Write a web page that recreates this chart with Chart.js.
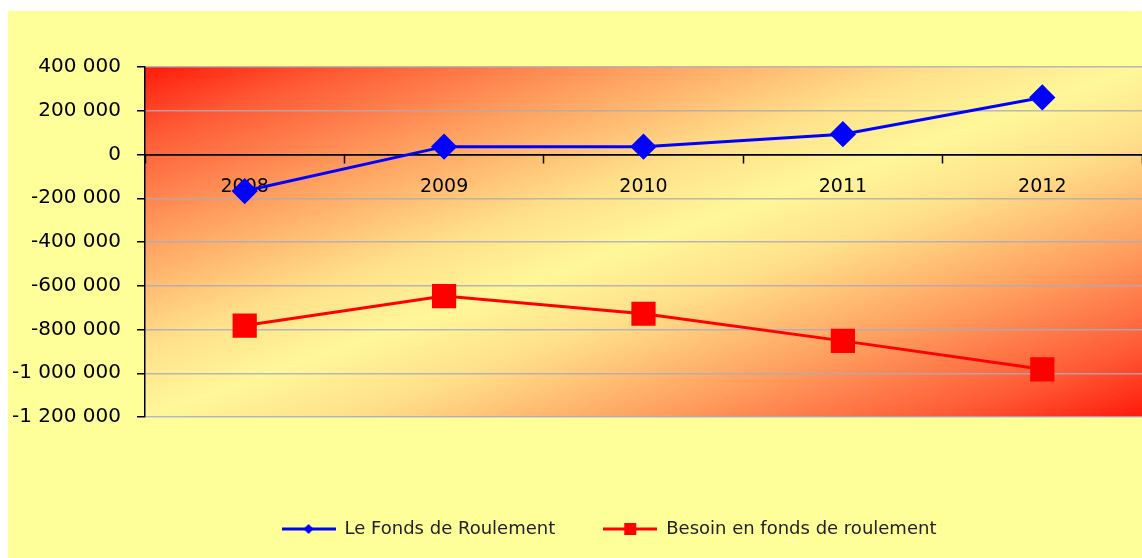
<!DOCTYPE html>
<html lang="fr">
<head>
<meta charset="utf-8">
<title>Fonds de roulement / BFR</title>
<script src="https://cdn.jsdelivr.net/npm/chart.js@4/dist/chart.umd.min.js"></script>
<style>
  html, body { margin: 0; padding: 0; background: #fff; }
  #wrap { position: absolute; left: 8px; top: 11px; width: 1134px; height: 547px; background: #FFFF99; }
</style>
</head>
<body>
<div id="wrap"><canvas id="fr-chart"></canvas></div>
<script>
/* FR vs BFR, 2008-2012 */
const years = ['2008', '2009', '2010', '2011', '2012'];
const fondsRoulement = [-167000, 36000, 36000, 93000, 261000];
const besoinFonds = [-782000, -647000, -728000, -852000, -982000];
const yMin = -1200000, yMax = 400000, yStep = 200000;

const FONT = '"Comic Sans MS", "DejaVu Sans", sans-serif';
const BLUE = '#0000FF';
const RED = '#FF0000';

// 1 234 567 (espace comme séparateur de milliers)
function fmt(v) {
  const s = String(Math.abs(v)).replace(/\B(?=(\d{3})+(?!\d))/g, ' ');
  return (v < 0 ? '-' : '') + s;
}

// petit symbole de légende : trait + marqueur
function legendSymbol(color, shape) {
  const c = document.createElement('canvas');
  c.width = 54; c.height = 14;
  const g = c.getContext('2d');
  g.strokeStyle = color; g.lineWidth = 3;
  g.beginPath(); g.moveTo(0, 7); g.lineTo(54, 7); g.stroke();
  g.fillStyle = color;
  g.beginPath();
  if (shape === 'diamond') {
    g.moveTo(27, 2); g.lineTo(32, 7); g.lineTo(27, 12); g.lineTo(22, 7);
  } else {
    g.rect(21, 1, 12, 12);
  }
  g.closePath(); g.fill();
  return c;
}
const symbols = [legendSymbol(BLUE, 'diamond'), legendSymbol(RED, 'square')];

// fond dégradé rouge / jaune / rouge de la zone de tracé
const plotBg = {
  id: 'plotBg',
  beforeDraw(chart) {
    const a = chart.chartArea, ctx = chart.ctx;
    ctx.save();
    ctx.translate(a.left, a.top);
    ctx.scale(a.right - a.left, a.bottom - a.top);
    const gr = ctx.createLinearGradient(0, 0, 1, 1);
    gr.addColorStop(0, '#ff1a0a');
    gr.addColorStop(0.1, '#ff5a35');
    gr.addColorStop(0.25, '#ffa060');
    gr.addColorStop(0.4, '#ffe08a');
    gr.addColorStop(0.5, '#fff799');
    gr.addColorStop(0.6, '#ffe08a');
    gr.addColorStop(0.75, '#ffa060');
    gr.addColorStop(0.9, '#ff5a35');
    gr.addColorStop(1, '#ff1a0a');
    ctx.fillStyle = gr;
    ctx.fillRect(0, 0, 1, 1);
    ctx.restore();
  }
};

// descend la légende vers le bas du cadre (et la décale un peu à droite)
const legendShift = {
  id: 'legendShift',
  afterLayout(chart) {
    const lg = chart.legend;
    if (!lg) return;
    const dy = 461 - lg.top;
    lg.top += dy;
    lg.bottom += dy;
    lg.left += 34;
    lg.right += 34;
  }
};

new Chart(document.getElementById('fr-chart'), {
  type: 'line',
  data: {
    labels: years,
    datasets: [{
      label: 'Le Fonds de Roulement',
      data: fondsRoulement,
      borderColor: BLUE,
      backgroundColor: BLUE,
      borderWidth: 3,
      pointStyle: 'rectRot',
      pointRadius: 11,
      pointHoverRadius: 11,
      tension: 0
    }, {
      label: 'Besoin en fonds de roulement',
      data: besoinFonds,
      borderColor: RED,
      backgroundColor: RED,
      borderWidth: 3,
      pointStyle: 'rect',
      pointRadius: 15,
      pointHoverRadius: 15,
      tension: 0
    }]
  },
  options: {
    responsive: true,
    maintainAspectRatio: false,
    animation: false,
    layout: { autoPadding: false, padding: { top: 56, right: 0, bottom: 65, left: 0 } },
    plugins: {
      tooltip: { enabled: false },
      legend: {
        position: 'bottom',
        labels: {
          usePointStyle: true,
          pointStyleWidth: 54,
          padding: 48,
          color: '#222',
          font: { family: FONT, size: 18 },
          generateLabels(chart) {
            const items = Chart.defaults.plugins.legend.labels.generateLabels(chart);
            items.forEach((it, i) => { it.pointStyle = symbols[i]; });
            return items;
          }
        }
      }
    },
    scales: {
      x: {
        position: { y: 0 },
        offset: true,
        border: { color: '#000', width: 1.5 },
        grid: { offset: true, drawOnChartArea: false, drawTicks: true, tickLength: 8, tickColor: '#000', tickWidth: 1.5 },
        ticks: { color: '#000', padding: 13, font: { family: FONT, size: 19 }, maxRotation: 0 },
        afterFit(scale) { scale.paddingLeft = 0; scale.paddingRight = 0; }
      },
      y: {
        min: yMin,
        max: yMax,
        border: { color: '#000', width: 1.5 },
        grid: {
          color: ctx => (ctx.tick && ctx.tick.value === 0) ? '#000' : 'rgba(170,170,190,0.85)',
          lineWidth: 1.5,
          drawTicks: true,
          tickLength: 8,
          tickColor: '#000',
          tickWidth: 1.5
        },
        ticks: {
          stepSize: yStep,
          color: '#000',
          padding: 16,
          font: { family: FONT, size: 20 },
          callback: v => fmt(v)
        },
        afterFit(scale) { scale.width = 137; }
      }
    }
  },
  plugins: [plotBg, legendShift]
});
</script>
</body>
</html>
